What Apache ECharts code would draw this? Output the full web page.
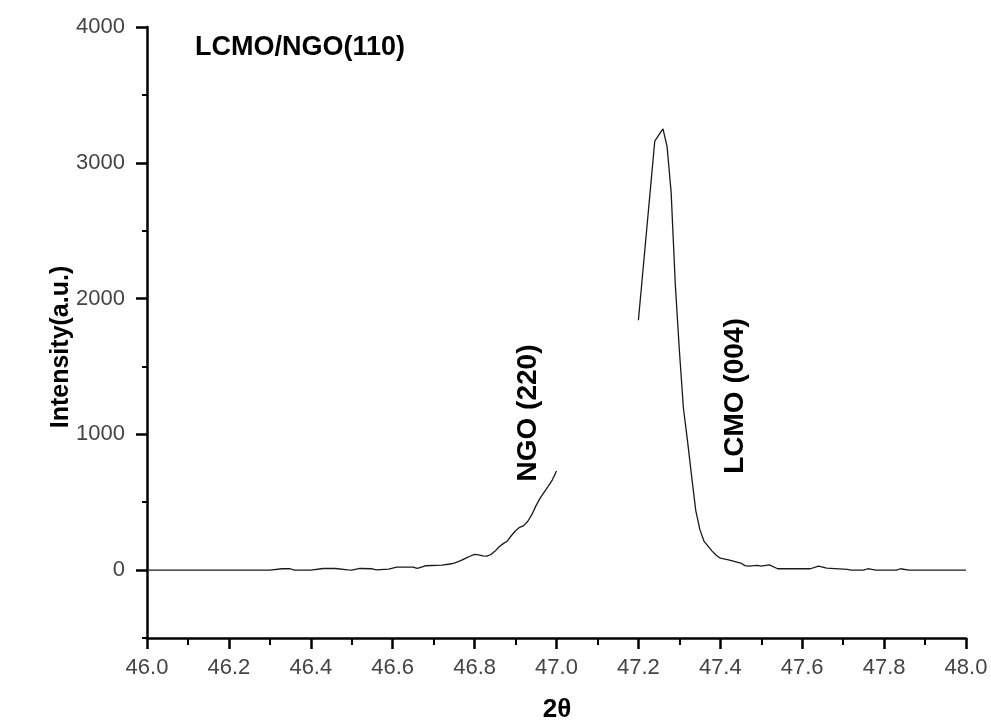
<!DOCTYPE html>
<html>
<head>
<meta charset="utf-8">
<script src="https://cdn.jsdelivr.net/npm/echarts@6/dist/echarts.min.js"></script>
<style>
  html, body { margin: 0; padding: 0; background: #fff; }
  #chart { width: 991px; height: 722px; }
</style>
</head>
<body>
<div id="chart"></div>
<script>
// NGO (220) substrate shoulder, scanned up to 47.0°
const ngoTheta = [46.00, 46.10, 46.20, 46.30, 46.33, 46.35, 46.36, 46.40, 46.43, 46.46,
  46.49, 46.50, 46.52, 46.55, 46.56, 46.59, 46.61, 46.65, 46.66, 46.68, 46.72, 46.74,
  46.75, 46.76, 46.77, 46.78, 46.79, 46.80, 46.81, 46.82, 46.83, 46.84, 46.85, 46.86,
  46.87, 46.88, 46.89, 46.90, 46.91, 46.92, 46.93, 46.94, 46.95, 46.96, 46.97, 46.98,
  46.99, 47.00];
const ngoIntensity = [0, 0, 0, 0, 10, 10, 0, 0, 12, 12,
  2, 0, 12, 10, 2, 8, 22, 22, 12, 32, 37, 45,
  52, 62, 76, 90, 104, 116, 112, 105, 103, 115, 140, 172,
  195, 215, 255, 290, 315, 328, 360, 410, 475, 530, 575, 618,
  665, 730];

// LCMO (004) film peak, scanned from 47.2°
const lcmoTheta = [47.20, 47.21, 47.22, 47.23, 47.24, 47.25, 47.26, 47.27, 47.28, 47.29,
  47.30, 47.31, 47.32, 47.33, 47.34, 47.35, 47.36, 47.37, 47.38, 47.39, 47.40, 47.42,
  47.45, 47.46, 47.47, 47.49, 47.50, 47.52, 47.54, 47.62, 47.64, 47.66, 47.71, 47.72,
  47.75, 47.76, 47.77, 47.78, 47.83, 47.84, 47.86, 48.00];
const lcmoIntensity = [1840, 2170, 2500, 2830, 3160, 3205, 3250, 3120, 2780, 2110,
  1620, 1190, 950, 690, 440, 300, 214, 177, 140, 110, 88, 75,
  52, 33, 30, 35, 29, 39, 10, 10, 29, 15, 5, 0,
  0, 10, 5, 0, 0, 10, 0, 0];

const xTicks = [46.0, 46.2, 46.4, 46.6, 46.8, 47.0, 47.2, 47.4, 47.6, 47.8, 48.0];
const yTicks = [0, 1000, 2000, 3000, 4000];
const yMinorTicks = [-500, 500, 1500, 2500, 3500];

const pairs = (xs, ys) => xs.map((x, i) => [x, ys[i]]);

const FONT = '"Liberation Sans", Arial, sans-serif';
const AXIS = { color: '#000', width: 2.5 };

const chart = echarts.init(document.getElementById('chart'), null, { renderer: 'canvas' });

chart.setOption({
  animation: false,
  backgroundColor: '#fff',
  grid: { left: 147, top: 27, right: 25, bottom: 84, containLabel: false },
  xAxis: {
    type: 'value',
    min: xTicks[0],
    max: xTicks[xTicks.length - 1],
    interval: 0.2,
    axisLine: { show: true, onZero: false, lineStyle: AXIS },
    axisTick: { show: true, inside: false, length: 11, lineStyle: AXIS },
    minorTick: { show: true, splitNumber: 2, length: 7, lineStyle: { color: '#000', width: 2 } },
    splitLine: { show: false },
    minorSplitLine: { show: false },
    axisLabel: {
      margin: 19,
      fontSize: 22,
      color: '#444',
      fontFamily: FONT,
      formatter: v => v.toFixed(1),
      showMinLabel: true,
      showMaxLabel: true
    }
  },
  yAxis: [
    {
      type: 'value',
      min: -500,
      max: 4000,
      axisLine: { show: true, onZero: false, lineStyle: AXIS },
      axisTick: { show: true, inside: false, length: 11, lineStyle: AXIS, customValues: yTicks },
      splitLine: { show: false },
      axisLabel: {
        margin: 22,
        fontSize: 22,
        color: '#444',
        fontFamily: FONT,
        customValues: yTicks,
        formatter: v => String(Math.round(v))
      }
    },
    {
      type: 'value',
      min: -500,
      max: 4000,
      position: 'left',
      axisLine: { show: false, onZero: false },
      axisTick: { show: true, inside: false, length: 5, lineStyle: { color: '#000', width: 2 }, customValues: yMinorTicks },
      axisLabel: { show: false },
      splitLine: { show: false }
    }
  ],
  series: [
    {
      type: 'line',
      name: 'NGO (220)',
      data: pairs(ngoTheta, ngoIntensity),
      showSymbol: false,
      symbol: 'none',
      lineStyle: { color: '#1a1a1a', width: 1.3 }
    },
    {
      type: 'line',
      name: 'LCMO (004)',
      data: pairs(lcmoTheta, lcmoIntensity),
      showSymbol: false,
      symbol: 'none',
      lineStyle: { color: '#1a1a1a', width: 1.3 }
    }
  ],
  graphic: [
    {
      type: 'text', left: 195, top: 34,
      style: { text: 'LCMO/NGO(110)', font: 'bold 27px ' + FONT, fill: '#000' }
    },
    {
      type: 'text', x: 528, y: 413, rotation: Math.PI / 2,
      style: { text: 'NGO (220)', font: 'bold 28px ' + FONT, fill: '#000', align: 'center', verticalAlign: 'middle' }
    },
    {
      type: 'text', x: 735, y: 396, rotation: Math.PI / 2,
      style: { text: 'LCMO (004)', font: 'bold 28px ' + FONT, fill: '#000', align: 'center', verticalAlign: 'middle' }
    },
    {
      type: 'text', x: 61, y: 347, rotation: Math.PI / 2,
      style: { text: 'Intensity(a.u.)', font: 'bold 25px ' + FONT, fill: '#000', align: 'center', verticalAlign: 'middle' }
    },
    {
      type: 'text', x: 557, y: 710,
      style: { text: '2θ', font: 'bold 26px ' + FONT, fill: '#000', align: 'center', verticalAlign: 'middle' }
    }
  ]
});
</script>
</body>
</html>
